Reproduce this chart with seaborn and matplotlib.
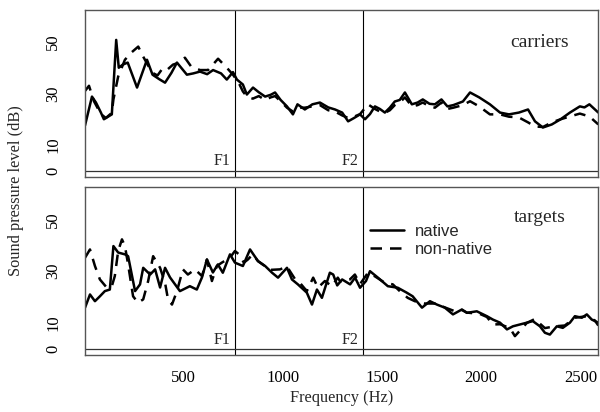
import matplotlib
matplotlib.use("Agg")
import matplotlib.pyplot as plt
from matplotlib.lines import Line2D
import seaborn as sns
import pandas as pd

# ---------------- data ----------------
F1 = 759
F2 = 1406

car_nat_f = [5, 40, 60, 85, 100, 140, 162, 175, 195, 220, 267, 317, 345, 380, 408, 440, 468, 518, 550, 584,
             620, 650, 690, 719, 750, 770, 800, 820, 851, 880, 912, 940, 962, 990, 1022, 1052, 1075, 1112,
             1150, 1188, 1230, 1264, 1300, 1330, 1360, 1390, 1415, 1440, 1465, 1490, 1515, 1540, 1565, 1590,
             1616, 1651, 1680, 1706, 1740, 1767, 1800, 1830, 1860, 1908, 1944, 1990, 2044, 2095, 2140, 2190,
             2236, 2271, 2311, 2356, 2400, 2447, 2497, 2520, 2545, 2590]
car_nat_db = [17.6, 28.8, 26.5, 22.6, 20.0, 21.9, 50.8, 40.0, 41.2, 42.0, 32.3, 43.1, 37.3, 35.5, 34.2, 38.0,
              42.0, 37.3, 37.8, 38.5, 37.5, 39.1, 37.8, 35.4, 38.3, 35.4, 33.5, 29.6, 32.3, 30.5, 28.8, 29.5,
              30.4, 27.5, 25.0, 21.9, 25.8, 23.8, 25.8, 26.5, 24.6, 23.8, 22.6, 19.2, 20.5, 21.9, 20.0, 22.0,
              25.0, 24.0, 22.6, 24.5, 26.9, 27.5, 30.4, 25.8, 26.5, 27.7, 26.0, 25.8, 27.7, 25.0, 25.5, 26.9,
              30.4, 28.5, 25.8, 22.6, 21.9, 22.6, 23.8, 19.2, 16.8, 18.0, 20.0, 22.6, 25.0, 24.6, 25.8, 22.6]

car_non_f = [5, 25, 50, 85, 110, 140, 148, 172, 206, 240, 273, 298, 343, 370, 398, 423, 448, 480, 508, 540,
             584, 625, 675, 719, 750, 780, 800, 820, 850, 880, 912, 940, 962, 990, 1022, 1052, 1075, 1112,
             1150, 1188, 1230, 1264, 1300, 1330, 1360, 1390, 1430, 1465, 1490, 1515, 1540, 1565, 1590, 1616,
             1651, 1680, 1706, 1740, 1767, 1800, 1830, 1860, 1908, 1944, 1990, 2044, 2095, 2140, 2190, 2236,
             2271, 2311, 2356, 2400, 2447, 2497, 2545, 2590]
car_non_db = [31.0, 33.0, 27.0, 22.0, 20.5, 22.5, 27.7, 36.6, 43.1, 46.0, 48.2, 44.3, 38.1, 37.0, 40.0, 39.5,
              41.2, 42.0, 43.9, 40.4, 39.1, 39.1, 43.5, 40.0, 37.3, 34.0, 30.8, 28.8, 28.0, 29.0, 27.5, 28.5,
              29.0, 27.0, 24.5, 23.0, 24.5, 24.5, 25.0, 25.5, 23.5, 23.0, 21.5, 20.5, 21.0, 22.0, 25.8, 24.0,
              23.0, 22.5, 23.5, 25.5, 26.5, 28.5, 25.0, 25.5, 26.5, 25.0, 24.5, 26.5, 24.0, 24.5, 25.5, 27.0,
              25.0, 21.9, 21.9, 21.0, 20.7, 18.8, 17.2, 17.0, 18.8, 20.0, 21.1, 22.2, 21.1, 18.0]

tar_nat_f = [5, 30, 55, 80, 105, 130, 148, 172, 206, 222, 257, 282, 298, 333, 358, 383, 408, 433, 483, 533,
             568, 594, 619, 649, 674, 699, 735, 760, 800, 836, 876, 912, 947, 977, 1022, 1047, 1077, 1122,
             1148, 1173, 1198, 1238, 1255, 1275, 1300, 1340, 1365, 1390, 1420, 1440, 1480, 1530, 1580, 1625,
             1655, 1702, 1742, 1777, 1817, 1858, 1903, 1928, 1978, 2029, 2059, 2095, 2130, 2160, 2195, 2230,
             2260, 2296, 2321, 2346, 2381, 2411, 2447, 2472, 2507, 2532, 2557, 2590]
tar_nat_db = [15.9, 21.0, 18.4, 20.3, 22.3, 22.9, 39.7, 37.2, 36.5, 35.8, 22.3, 24.9, 31.3, 28.7, 30.7, 23.7,
              31.3, 27.6, 22.3, 24.2, 22.9, 27.6, 34.5, 29.5, 32.6, 29.4, 36.5, 33.3, 32.0, 38.4, 33.9, 32.0,
              29.4, 27.5, 31.3, 26.8, 24.9, 21.7, 17.1, 22.9, 19.7, 29.4, 28.7, 24.5, 26.8, 24.9, 27.5, 23.6,
              26.2, 30.0, 27.5, 24.2, 23.6, 21.7, 20.3, 15.9, 18.4, 17.1, 15.9, 13.3, 15.2, 13.9, 14.5, 12.6,
              11.3, 10.1, 7.5, 8.7, 9.4, 10.1, 10.7, 8.7, 6.2, 5.5, 8.7, 8.1, 10.1, 12.6, 12.0, 13.3, 11.3, 10.1]

tar_non_f = [5, 30, 55, 80, 115, 140, 155, 172, 191, 206, 222, 247, 272, 298, 323, 348, 383, 408, 423, 443,
             468, 498, 523, 559, 594, 619, 644, 669, 694, 735, 760, 780, 805, 825, 850, 876, 937, 987, 1022,
             1062, 1087, 1122, 1154, 1178, 1213, 1248, 1278, 1290, 1339, 1364, 1390, 1430, 1465, 1515, 1555,
             1590, 1630, 1666, 1716, 1767, 1817, 1868, 1903, 1928, 1993, 2029, 2059, 2095, 2145, 2170, 2195,
             2230, 2270, 2321, 2371, 2421, 2472, 2522, 2572, 2590]
tar_non_db = [35.2, 38.4, 32.0, 26.8, 23.6, 24.2, 28.1, 37.8, 42.3, 39.7, 32.6, 20.3, 17.8, 19.1, 26.2, 35.8,
              31.3, 25.5, 19.1, 17.1, 22.3, 30.7, 28.7, 30.7, 28.1, 34.5, 26.2, 32.0, 33.3, 35.2, 37.8, 36.5,
              33.3, 34.5, 36.5, 33.9, 30.5, 30.7, 31.8, 27.0, 25.5, 22.3, 27.5, 23.6, 26.2, 24.2, 27.5, 26.0,
              26.8, 28.7, 25.0, 29.4, 28.0, 25.5, 24.9, 22.3, 19.7, 18.4, 17.5, 17.5, 16.0, 14.5, 15.0, 14.0,
              13.5, 12.3, 9.4, 9.5, 8.0, 4.9, 7.0, 10.0, 11.5, 8.0, 8.7, 9.0, 12.0, 12.5, 11.0, 9.0]

speakers = ["native", "non-native"]
panels = ["carriers", "targets"]
x_ticks = [500, 1000, 1500, 2000, 2500]
y_ticks = [0, 10, 20, 30, 40, 50, 60]
y_ticklabels = ["0", "10", "", "30", "", "50", ""]


def frame(f, db, spk, panel):
    return pd.DataFrame({"freq": f, "db": db, "speaker": spk, "panel": panel})


df = pd.concat([
    frame(car_nat_f, car_nat_db, "native", "carriers"),
    frame(car_non_f, car_non_db, "non-native", "carriers"),
    frame(tar_nat_f, tar_nat_db, "native", "targets"),
    frame(tar_non_f, tar_non_db, "non-native", "targets"),
], ignore_index=True)

# ---------------- style ----------------
sns.set_style("white")
plt.rcParams["font.family"] = ["Liberation Serif", "DejaVu Serif"]

fig = plt.figure(figsize=(6.0, 4.12), dpi=100)
ax_top = fig.add_axes([0.1417, 0.5704, 0.8555, 0.4053])
ax_bot = fig.add_axes([0.1417, 0.1383, 0.8555, 0.4070])

dash_map = {"native": "", "non-native": (4.6, 3.2)}
LW = 1.8

label_pos = {"carriers": 49.7, "targets": 50.8}

for ax, panel in zip([ax_top, ax_bot], panels):
    sub = df[df["panel"] == panel]
    sns.lineplot(data=sub, x="freq", y="db", style="speaker", dashes=dash_map,
                 style_order=speakers, color="black", linewidth=LW,
                 estimator=None, sort=True, legend=False, ax=ax)
    ax.set_xlim(5, 2590)
    ax.set_ylim(-2.4, 62.4)
    ax.axvline(F1, color="black", lw=0.8)
    ax.axvline(F2, color="black", lw=0.8)
    ax.axhline(0, color="#333333", lw=0.9)
    ax.set_xticks(x_ticks)
    ax.set_yticks(y_ticks)
    ax.set_yticklabels(y_ticklabels, rotation=90, va="center", fontsize=12)
    ax.tick_params(axis="both", direction="in", length=4.3, width=0.8, colors="#333333")
    ax.tick_params(axis="y", pad=17, labelcolor="black")
    ax.tick_params(axis="x", pad=11, labelcolor="black", labelsize=12)
    ax.set_xlabel("")
    ax.set_ylabel("")
    for sp in ax.spines.values():
        sp.set_color("#555555")
        sp.set_linewidth(1.0)
    ybase = 2.2 if panel == "carriers" else 2.05
    for fx, name in [(F1, "F1"), (F2, "F2")]:
        ax.annotate(name, xy=(fx, ybase), xytext=(-3.4, 0), textcoords="offset points",
                    ha="right", va="baseline", fontsize=11.5)
    ax.text(2296, label_pos[panel], panel, ha="center", va="center", fontsize=14)

ax_top.set_xticklabels([])

handles = [Line2D([], [], color="black", lw=LW),
           Line2D([], [], color="black", lw=LW, dashes=dash_map["non-native"])]
ax_bot.legend(handles, speakers, loc="upper left", bbox_to_anchor=(0.617, 0.456),
              bbox_transform=fig.transFigure, frameon=False, borderpad=0, borderaxespad=0,
              handlelength=2.0, handletextpad=0.7, labelspacing=0.15,
              prop={"family": "Liberation Sans", "size": 12})

fig.text(16.5 / 600, 1 - 191 / 412, "Sound pressure level (dB)", rotation=90,
         ha="center", va="center", fontsize=11.8)
fig.text(341.5 / 600, 1 - 398 / 412, "Frequency (Hz)", ha="center", va="center", fontsize=11.8)

fig.savefig("out.png", dpi=100)
